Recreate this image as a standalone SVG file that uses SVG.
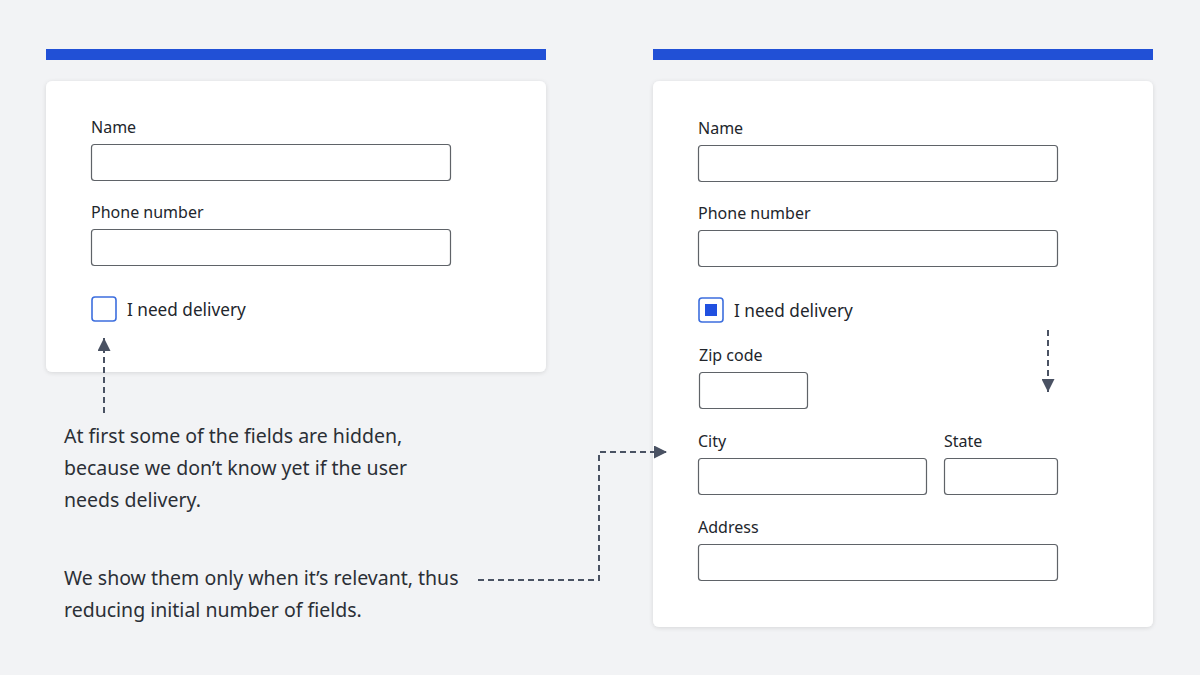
<svg xmlns="http://www.w3.org/2000/svg" width="1200" height="675" viewBox="0 0 1200 675">
<style>
.card{fill:#ffffff;filter:url(#sh)}
.bar{fill:#2150d6}
.lbl{font-family:"Noto Sans","Open Sans",sans-serif;font-size:16px;fill:#22262c}
.chk{font-family:"Noto Sans","Open Sans",sans-serif;font-size:17.2px;fill:#22262c}
.note{font-family:"Noto Sans","Open Sans",sans-serif;font-size:19.5px;fill:#2b2f36}
.fld{fill:#fff;stroke:#5f6368;stroke-width:1.2}
.cb{fill:#fff;stroke:#3c6ede;stroke-width:1.6}
.con{fill:none;stroke:#4a5263;stroke-width:2;stroke-dasharray:6 4}
</style>
<defs>
<filter id="sh" x="-5%" y="-5%" width="110%" height="115%">
<feDropShadow dx="0" dy="1" stdDeviation="2" flood-color="#000" flood-opacity="0.12"/>
</filter>
<marker id="ah" viewBox="0 0 10 10" refX="10" refY="5" markerWidth="13" markerHeight="13" markerUnits="userSpaceOnUse" orient="auto">
<path d="M0,0 L10,5 L0,10 z" fill="#4a5263"/>
</marker>
</defs>
<rect width="1200" height="675" fill="#f2f3f5"/>

<g id="left-panel">
<rect class="bar" x="46" y="49" width="500" height="11"/>
<rect class="card" x="46" y="81" width="500" height="291" rx="6"/>
<text class="lbl" x="91" y="133">Name</text>
<rect class="fld" x="91.5" y="144.5" width="359" height="36" rx="3"/>
<text class="lbl" x="91" y="218">Phone number</text>
<rect class="fld" x="91.5" y="229.5" width="359" height="36" rx="3"/>
<rect class="cb" x="92" y="297" width="24" height="24" rx="3"/>
<text class="chk" x="127" y="316">I need delivery</text>
</g>

<g id="right-panel">
<rect class="bar" x="653" y="49" width="500" height="11"/>
<rect class="card" x="653" y="81" width="500" height="546" rx="6"/>
<text class="lbl" x="698" y="134">Name</text>
<rect class="fld" x="698.5" y="145.5" width="359" height="36" rx="3"/>
<text class="lbl" x="698" y="219">Phone number</text>
<rect class="fld" x="698.5" y="230.5" width="359" height="36" rx="3"/>
<rect class="cb" x="699" y="298" width="24" height="24" rx="3"/>
<rect x="705" y="304" width="12" height="12" fill="#2150e0"/>
<text class="chk" x="734" y="317">I need delivery</text>
<text class="lbl" x="699" y="361">Zip code</text>
<rect class="fld" x="699.5" y="372.5" width="108" height="36" rx="3"/>
<text class="lbl" x="698" y="447">City</text>
<rect class="fld" x="698.5" y="458.5" width="228" height="36" rx="3"/>
<text class="lbl" x="944" y="447">State</text>
<rect class="fld" x="944.5" y="458.5" width="113" height="36" rx="3"/>
<text class="lbl" x="698" y="533">Address</text>
<rect class="fld" x="698.5" y="544.5" width="359" height="36" rx="3"/>
</g>

<g id="notes">
<text class="note" x="64" y="443">At first some of the fields are hidden,</text>
<text class="note" x="64" y="475">because we don’t know yet if the user</text>
<text class="note" x="64" y="507">needs delivery.</text>
<text class="note" x="64" y="585">We show them only when it’s relevant, thus</text>
<text class="note" x="64" y="617">reducing initial number of fields.</text>
</g>

<g id="connectors">
<path class="con" d="M104,413 L104,338" marker-end="url(#ah)"/>
<path class="con" d="M1048,330 L1048,392" marker-end="url(#ah)"/>
<path class="con" d="M478,580 L599,580 L599,452 L667,452" marker-end="url(#ah)"/>
</g>
</svg>
